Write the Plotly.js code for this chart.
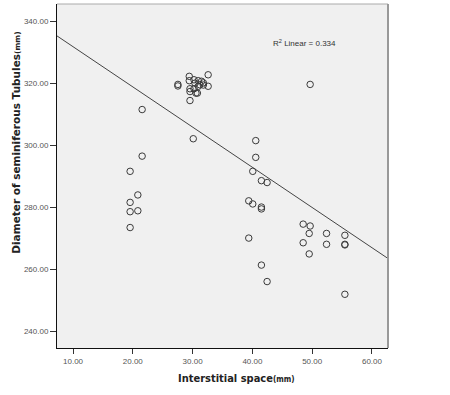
<!DOCTYPE html>
<html>
<head>
<meta charset="utf-8">
<script src="https://cdn.plot.ly/plotly-3.0.1.min.js"></script>
<style>html,body{margin:0;padding:0;background:#fff;}#chart{width:450px;height:395px;}</style>
</head>
<body>
<div id="chart"></div>
<script>
// Interstitial space (mm)
var interstitial = [
  19.55, 19.55, 19.55, 19.55, 20.84, 20.84, 21.56, 21.56,
  27.54, 27.54, 30.11,
  29.44, 29.44, 29.56, 29.56, 29.56, 30.23, 30.4, 30.23, 30.56, 30.8,
  30.95, 31.2, 30.95, 31.8, 31.8, 31.5, 32.6, 32.6,
  49.66,
  40.56, 40.56, 40.06, 41.51, 42.46, 39.39, 40.06, 41.51, 41.51, 39.39, 41.51, 42.46,
  48.49, 49.66, 49.5, 48.49, 49.5, 52.4, 52.4, 55.47, 55.47, 55.47, 55.47
];
// Diameter of seminiferous tubules (mm)
var diameter = [
  291.6, 281.6, 278.6, 273.5, 284.0, 278.9, 311.5, 296.5,
  319.6, 319.1, 302.1,
  322.2, 320.8, 318.2, 317.3, 314.4, 321.1, 320.0, 318.2, 316.8, 316.8,
  320.8, 319.5, 319.0, 320.1, 319.4, 320.6, 322.7, 319.0,
  319.6,
  301.5, 296.1, 291.6, 288.6, 288.0, 282.1, 281.1, 280.1, 279.5, 270.1, 261.4, 256.1,
  274.6, 274.0, 271.6, 268.6, 265.0, 271.6, 268.1, 271.0, 268.1, 267.9, 252.0
];
// Linear fit (as drawn in reference)
var fitIntercept = 344.7;
var fitSlope = -1.295;
var r2Label = "R<sup>2</sup> Linear = 0.334";
var xRange = [7.32, 62.68];
var yRange = [234.7, 345.5];
var xTicks = [10, 20, 30, 40, 50, 60];
var yTicks = [240, 260, 280, 300, 320, 340];

var fitX = [xRange[0], xRange[1]];
var fitY = fitX.map(function(x){ return fitIntercept + fitSlope * x; });

var traces = [
  {
    x: interstitial, y: diameter, type: 'scatter', mode: 'markers',
    marker: {symbol: 'circle-open', size: 6.5, color: '#3a3a3a', line: {width: 1, color: '#3a3a3a'}},
    hoverinfo: 'x+y', showlegend: false
  },
  {
    x: fitX, y: fitY, type: 'scatter', mode: 'lines',
    line: {color: '#444', width: 1}, showlegend: false
  }
];

var tickFont = {family: 'Liberation Sans, Arial, sans-serif', size: 8, color: '#555'};

var layout = {
  width: 450, height: 395,
  margin: {l: 57, r: 62, t: 4, b: 47},
  paper_bgcolor: '#ffffff',
  plot_bgcolor: '#f0f0f0',
  showlegend: false,
  xaxis: {
    range: xRange, tickvals: xTicks, ticktext: xTicks.map(function(v){return v.toFixed(2);}),
    ticks: 'outside', ticklen: 5, tickcolor: '#333', tickwidth: 1,
    showgrid: false, zeroline: false, showline: true, linecolor: '#111', linewidth: 1,
    mirror: false, tickfont: tickFont
  },
  yaxis: {
    range: yRange, tickvals: yTicks, ticktext: yTicks.map(function(v){return v.toFixed(2);}),
    ticks: 'outside', ticklen: 6, tickcolor: '#333', tickwidth: 1,
    showgrid: false, zeroline: false, showline: true, linecolor: '#111', linewidth: 1,
    mirror: false, tickfont: tickFont
  },
  shapes: [
    {type: 'line', xref: 'paper', yref: 'paper', x0: 0, x1: 1, y0: 1, y1: 1, line: {color: '#aaa', width: 1}},
    {type: 'line', xref: 'paper', yref: 'paper', x0: 1, x1: 1, y0: 0, y1: 1, line: {color: '#999', width: 2}}
  ],
  annotations: [
    {text: r2Label, xref: 'paper', yref: 'paper', x: (271 - 57) / 331, y: 1 - (42.7 - 4) / 344,
     xanchor: 'left', yanchor: 'middle', showarrow: false,
     font: {family: 'Liberation Sans, Arial, sans-serif', size: 8, color: '#333'}},
    {text: '<b>Interstitial space</b><b><span style="font-size:8px">(mm)</span></b>',
     xref: 'paper', yref: 'paper', x: (236 - 57) / 331, y: -(378 - 348) / 344,
     xanchor: 'center', yanchor: 'middle', showarrow: false,
     font: {family: 'DejaVu Sans Condensed, DejaVu Sans, sans-serif', size: 11, color: '#222'}},
    {text: '<b>Diameter of seminiferous Tubules</b><b><span style="font-size:7.5px">(mm)</span></b>',
     xref: 'paper', yref: 'paper', x: -(57 - 15.7) / 331, y: 1 - (143 - 4) / 344,
     xanchor: 'center', yanchor: 'middle', showarrow: false, textangle: -90,
     font: {family: 'DejaVu Sans, sans-serif', size: 10.5, color: '#222'}}
  ]
};

Plotly.newPlot('chart', traces, layout, {displayModeBar: false, staticPlot: true});
</script>
</body>
</html>
